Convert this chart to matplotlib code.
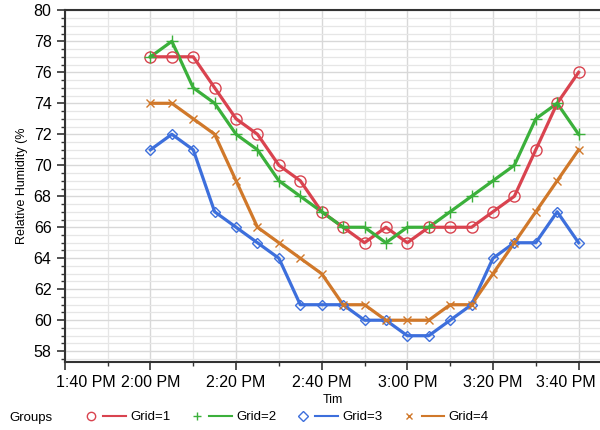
import matplotlib
matplotlib.use("Agg")
import matplotlib.pyplot as plt
from matplotlib.lines import Line2D
from matplotlib.legend_handler import HandlerBase
from matplotlib.ticker import MultipleLocator

plt.rcParams["font.family"] = ["Liberation Sans", "DejaVu Sans"]

# sample times (minutes after 2:00 PM), 5-minute steps
minutes = [0, 5, 10, 15, 20, 25, 30, 35, 40, 45, 50,
           55, 60, 65, 70, 75, 80, 85, 90, 95, 100]

grid1 = [77, 77, 77, 75, 73, 72, 70, 69, 67, 66, 65, 66, 65, 66, 66, 66, 67, 68, 71, 74, 76]
grid2 = [77, 78, 75, 74, 72, 71, 69, 68, 67, 66, 66, 65, 66, 66, 67, 68, 69, 70, 73, 74, 72]
grid3 = [71, 72, 71, 67, 66, 65, 64, 61, 61, 61, 60, 60, 59, 59, 60, 61, 64, 65, 65, 67, 65]
grid4 = [74, 74, 73, 72, 69, 66, 65, 64, 63, 61, 61, 60, 60, 60, 61, 61, 63, 65, 67, 69, 71]

tick_minutes = [-20, 0, 20, 40, 60, 80, 100]
tick_labels = ["1:40 PM", "2:00 PM", "2:20 PM", "2:40 PM", "3:00 PM", "3:20 PM", "3:40 PM"]

series = [
    ("Grid=1", grid1, "#d9434f", "o", 8),
    ("Grid=2", grid2, "#3bb03b", "+", 8),
    ("Grid=3", grid3, "#3d6fdc", "D", 5.5),
    ("Grid=4", grid4, "#d0782a", "x", 5.5),
]


class MarkerThenLine(HandlerBase):
    """legend key: marker, small gap, then a short line"""
    def create_artists(self, legend, orig, xdescent, ydescent, width, height,
                       fontsize, trans):
        mk, ln = orig
        y = height / 2 - ydescent
        m = Line2D([-xdescent + 4], [y], marker=mk.get_marker(), ls="none",
                   color=mk.get_color(), mfc="none", ms=mk.get_markersize(),
                   mew=mk.get_markeredgewidth(), transform=trans)
        l = Line2D([-xdescent + 13, -xdescent + width], [y, y],
                   color=ln.get_color(), lw=ln.get_linewidth(), transform=trans)
        return [m, l]


fig = plt.figure(figsize=(6, 4.3), dpi=100)
ax = fig.add_axes([0.108, 0.158, 0.892, 0.818])

handles = []
for label, vals, color, mk, ms in series:
    ax.plot(minutes, vals, "-", color=color, lw=2.3, zorder=3)
    ax.plot(minutes, vals, mk, color=color, ms=ms, mfc="none", mew=1.0, zorder=4)
    m = Line2D([], [], marker=mk, ls="none", color=color, mfc="none",
               ms=6 if mk in "o+" else 5, mew=1.0)
    l = Line2D([], [], color=color, lw=1.5)
    handles.append((m, l))

ax.set_xlim(-20, 105)
ax.set_ylim(57.3, 80)
ax.set_xticks(tick_minutes)
# first and last labels are drawn below, nudged inward like in the original
ax.set_xticklabels([""] + tick_labels[1:-1] + [""])
ax.xaxis.set_minor_locator(MultipleLocator(10))
ax.yaxis.set_major_locator(MultipleLocator(2))
ax.yaxis.set_minor_locator(MultipleLocator(0.5))

xtrans = ax.get_xaxis_transform()
ax.annotate(tick_labels[0], xy=(tick_minutes[0], 0), xycoords=xtrans,
            xytext=(-6, -9.5), textcoords="offset points",
            ha="left", va="top", fontsize=11.5)
ax.annotate(tick_labels[-1], xy=(tick_minutes[-1], 0), xycoords=xtrans,
            xytext=(12.5, -9.5), textcoords="offset points",
            ha="right", va="top", fontsize=11.5)

ax.grid(True, which="major", color="#d8d8d8", lw=1.0)
ax.grid(True, which="minor", color="#e6e6e6", lw=0.9)
ax.set_axisbelow(True)

for s in ["left", "bottom", "top"]:
    ax.spines[s].set_color("#333333")
    ax.spines[s].set_linewidth(1.5)
ax.spines["right"].set_visible(False)
ax.tick_params(axis="both", which="major", labelsize=11.5, length=6, width=1.2,
               color="#333333", direction="out")
ax.tick_params(axis="both", which="minor", length=3, width=1.0, color="#333333")

ax.set_ylabel("Relative Humidity (%", fontsize=9)
ax.set_xlabel("Tim", fontsize=9, labelpad=3)

fig.text(0.015, 0.028, "Groups", fontsize=9.5, va="center", ha="left")
fig.legend(handles, [s[0] for s in series], ncol=4, frameon=False,
           loc="center left", bbox_to_anchor=(0.122, 0.03), fontsize=9.5,
           handler_map={tuple: MarkerThenLine()},
           handlelength=3.1, columnspacing=1.6, handletextpad=0.3)

fig.savefig("out.png", dpi=100)
